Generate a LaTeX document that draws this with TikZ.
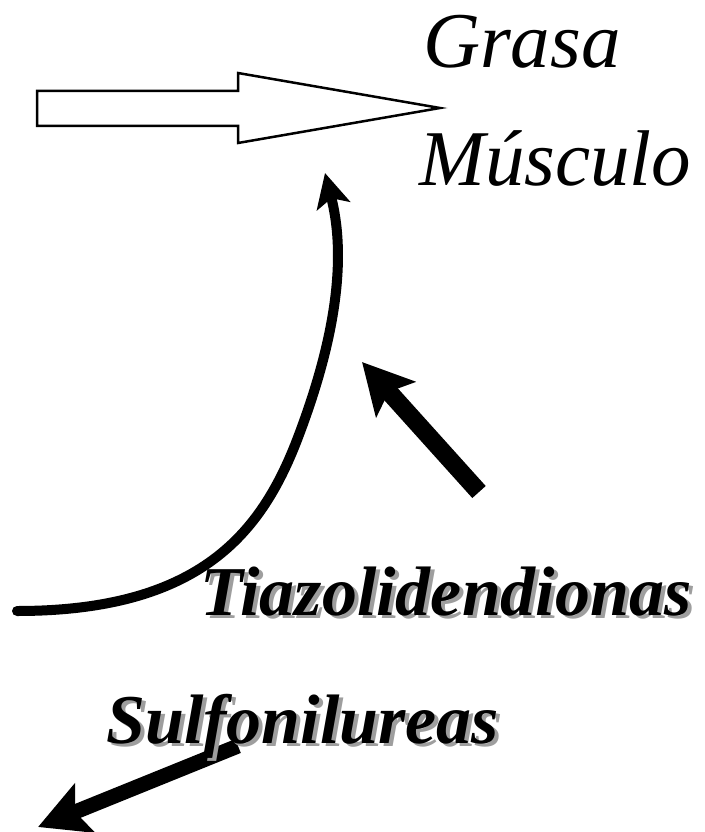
\documentclass[tikz,border=0pt]{standalone}
\usepackage{fontspec}
\setmainfont{Liberation Serif}
\usetikzlibrary{arrows.meta}
\begin{document}
\begin{tikzpicture}[x=1pt,y=-1pt,
  lbl/.style={anchor=base west,inner sep=0pt,font=\fontsize{79}{80}\selectfont\itshape},
  drug/.style={anchor=base west,inner sep=0pt,font=\fontsize{70}{70}\selectfont\bfseries\itshape},
  shade/.style={text=black!38},
  thick arrow/.style={line width=#1, -{Stealth[length=50pt,width=52pt,inset=10pt]}}]
\useasboundingbox (0,0) rectangle (704,832);
% block arrow
\draw[line width=2.5pt, line join=miter, fill=white]
  (37,91) -- (238,91) -- (238,73) -- (440,108) -- (238,143) -- (238,126) -- (37,126) -- cycle;
% labels top right
\node[lbl] (grasa) at (423,68) {Grasa};
\node[lbl] (musculo) at (419,185) {Músculo};
% curved arrow
\coordinate (cstart) at (17,611);
\coordinate (cmid) at (297,440);
\coordinate (ctip) at (325,173);
\draw[line width=10pt, line cap=round, -{Stealth[length=34pt,width=34pt,inset=8pt]}]
  (cstart) .. controls (200,611) and (261,533) .. (cmid)
           .. controls (340,328) and (345,251) .. (ctip);
% straight arrow toward curve
\coordinate (ttail) at (479,492);
\coordinate (ttip) at (362,362);
\draw[thick arrow=18pt] (ttail) -- (ttip);
% Sulfonilureas arrow
\coordinate (stail) at (238,746);
\coordinate (stip) at (38,827);
\draw[thick arrow=15pt] (stail) -- (stip);
% shadowed labels
\node[drug, shade] (tiaS) at (204,618) {Tiazolidendionas};
\node[drug] (tia) at (200,615) {Tiazolidendionas};
\node[drug, shade] (sulS) at (110,746) {Sulfonilureas};
\node[drug] (sul) at (106,743) {Sulfonilureas};
\end{tikzpicture}
\end{document}
